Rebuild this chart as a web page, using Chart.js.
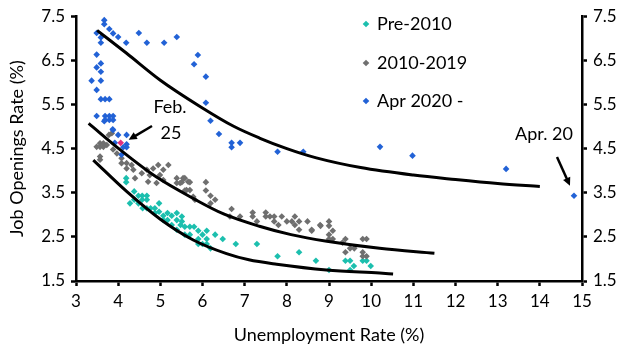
<!DOCTYPE html>
<html>
<head>
<meta charset="utf-8">
<script src="https://cdn.jsdelivr.net/npm/chart.js@4"></script>
<style>
  html, body { margin: 0; padding: 0; background: #fff; }
  #wrap { width: 629px; height: 354px; }
</style>
</head>
<body>
<div id="wrap"><canvas id="chart" width="629" height="354"></canvas></div>
<script>
// axis ticks
const xTicks = [3, 4, 5, 6, 7, 8, 9, 10, 11, 12, 13, 14, 15];
const yTicks = [1.5, 2.5, 3.5, 4.5, 5.5, 6.5, 7.5];

// series names
const seriesNames = ['Pre-2010', '2010-2019', 'Apr 2020 -'];

// Pre-2010 (unemployment, job openings)
const pre2010 = [
  [4.19, 3.83], [4.19, 3.74], [4.38, 3.53], [4.28, 3.26], [4.48, 3.26], [4.57, 3.43],
  [4.68, 3.43], [4.68, 3.34], [4.57, 3.34], [4.38, 3.34], [4.68, 3.15], [4.77, 3.15],
  [4.97, 3.26], [4.97, 3.07], [5.07, 2.98], [5.07, 2.88], [5.17, 3.04], [5.17, 2.88],
  [5.27, 2.77], [5.39, 3.04], [5.39, 2.88], [5.39, 2.66], [5.48, 2.77], [4.48, 3.43],
  [4.87, 3.15], [4.87, 3.04], [5.27, 2.98], [4.58, 3.15], [5.51, 2.96], [5.51, 2.85],
  [5.58, 2.73], [5.70, 2.73], [5.80, 2.73], [5.58, 2.55], [5.70, 2.55], [5.90, 2.64],
  [5.90, 2.45], [6.00, 2.55], [6.10, 2.64], [6.10, 2.45], [5.90, 2.34], [6.00, 2.34],
  [6.10, 2.34], [6.19, 2.24], [6.30, 2.55], [6.48, 2.45], [6.79, 2.34], [7.29, 2.34],
  [7.78, 2.06], [8.29, 2.15], [8.69, 1.96], [9.00, 1.75], [9.39, 1.96], [9.50, 1.96],
  [9.59, 1.84], [9.50, 1.75], [9.80, 1.96], [9.89, 1.96], [9.99, 1.84]
];

// 2010-2019
const y2010s = [
  [3.78, 4.81], [3.85, 4.85], [3.57, 4.62], [3.57, 4.54], [3.65, 4.62], [3.65, 4.54],
  [3.73, 4.58], [3.49, 4.54], [3.57, 4.32], [3.57, 4.25], [3.88, 4.48], [3.97, 4.39],
  [4.08, 4.28], [4.08, 4.17], [4.20, 4.17], [4.20, 4.05], [4.32, 4.13], [4.36, 4.02],
  [4.56, 3.94], [4.68, 4.02], [4.75, 3.90], [4.71, 3.75], [4.83, 4.05], [4.95, 4.13],
  [4.99, 3.90], [5.07, 4.02], [5.19, 4.13], [5.07, 3.79], [4.91, 3.72], [4.40, 3.83],
  [5.39, 3.83], [5.47, 3.72], [5.54, 3.83], [5.66, 3.75], [5.70, 3.56], [5.62, 3.56],
  [5.39, 3.72], [5.78, 3.41], [5.58, 3.83], [5.70, 3.74], [5.51, 3.74], [5.58, 3.55],
  [6.08, 3.74], [6.08, 3.55], [6.19, 3.43], [6.30, 3.34], [6.19, 3.26], [5.82, 3.34],
  [6.69, 3.13], [6.65, 2.96], [6.89, 2.96], [7.19, 3.05], [7.19, 2.96], [7.29, 2.85],
  [7.50, 3.05], [7.50, 2.96], [7.60, 2.96], [7.70, 2.96], [7.70, 2.85], [7.80, 2.77],
  [7.88, 2.96], [8.00, 2.85], [8.12, 2.85], [8.19, 2.96], [8.19, 2.77], [8.29, 2.85],
  [8.29, 2.66], [8.49, 2.85], [8.59, 2.66], [8.79, 2.77], [8.59, 2.64], [8.80, 2.75],
  [9.00, 2.85], [9.00, 2.75], [9.09, 2.64], [9.00, 2.55], [9.00, 2.45], [9.09, 2.45],
  [9.32, 2.37], [9.39, 2.45], [9.50, 2.24], [9.60, 2.24], [9.39, 2.15], [9.80, 2.45],
  [9.89, 2.45], [9.80, 2.15], [9.80, 2.06], [9.89, 2.06]
];

// Apr 2020 onwards
const since2020 = [
  [3.67, 7.41], [3.67, 7.32], [3.79, 7.21], [3.49, 7.12], [3.88, 7.11], [4.00, 7.03],
  [3.59, 7.02], [3.59, 6.90], [4.19, 6.90], [4.49, 7.12], [4.68, 6.90], [5.09, 6.90],
  [5.39, 7.03], [3.49, 6.63], [3.59, 6.43], [3.49, 6.34], [3.59, 6.24], [3.37, 6.04],
  [3.59, 6.04], [3.49, 5.83], [3.59, 5.62], [3.69, 5.62], [3.79, 5.62], [3.49, 5.24],
  [3.69, 5.24], [3.79, 5.24], [3.88, 5.24], [3.69, 5.15], [3.79, 5.15], [3.88, 5.15],
  [3.88, 4.92], [4.00, 4.81], [4.20, 4.81], [3.67, 5.12], [3.87, 4.94], [3.92, 4.63],
  [4.20, 4.60], [4.12, 4.53], [4.20, 4.53], [4.08, 4.36], [5.89, 6.62], [5.80, 6.41],
  [6.08, 6.13], [6.08, 5.54], [6.19, 5.13], [6.39, 4.83], [6.69, 4.63], [6.69, 4.53],
  [6.89, 4.63], [7.78, 4.43], [8.39, 4.43], [10.21, 4.54], [10.98, 4.34], [13.20, 4.04],
  [14.81, 3.43]
];

// latest observation (Feb 2025)
const latest = [[4.06, 4.63]];

// fitted curves
const curveTop = [
  [3.50, 7.18], [4.20, 6.66], [5.00, 6.05], [5.95, 5.45], [6.75, 5.00], [7.35, 4.74],
  [8.00, 4.50], [8.70, 4.29], [9.75, 4.07], [11.0, 3.90], [12.0, 3.80], [13.0, 3.71], [14.0, 3.64]
];
const curveMid = [
  [3.30, 5.07], [4.05, 4.47], [4.90, 3.86], [5.80, 3.36], [6.50, 3.02], [7.35, 2.74],
  [8.10, 2.55], [8.95, 2.40], [10.2, 2.24], [11.5, 2.13]
];
const curveLow = [
  [3.41, 4.24], [4.20, 3.53], [5.00, 2.90], [5.78, 2.43], [6.57, 2.12], [7.10, 1.98],
  [7.76, 1.88], [8.94, 1.75], [10.2, 1.68], [10.52, 1.66]
];

const colTeal = '#1cbfae';
const colGrey = '#6f6f6f';
const colBlue = '#2262d6';
const colPink = '#e0307f';
const FONT = 'Lato, "Open Sans", sans-serif';

const pts = arr => arr.map(([x, y]) => ({ x, y }));

function scatterSet(label, arr, color, order) {
  return {
    type: 'scatter', label, data: pts(arr),
    backgroundColor: color, borderColor: color,
    pointStyle: 'rectRot', pointRadius: 3.3, borderWidth: 0, order
  };
}
function curveSet(arr) {
  return {
    type: 'line', data: pts(arr), borderColor: '#000', borderWidth: 3,
    pointRadius: 0, fill: false, cubicInterpolationMode: 'monotone', order: 0
  };
}

function arrow(ctx, x1, y1, x2, y2) {
  const a = Math.atan2(y2 - y1, x2 - x1);
  const h = 9;
  ctx.beginPath();
  ctx.moveTo(x1, y1);
  ctx.lineTo(x2 - Math.cos(a) * h * 0.8, y2 - Math.sin(a) * h * 0.8);
  ctx.lineWidth = 2.5;
  ctx.strokeStyle = '#000';
  ctx.stroke();
  ctx.beginPath();
  ctx.moveTo(x2, y2);
  ctx.lineTo(x2 - h * Math.cos(a - 0.45), y2 - h * Math.sin(a - 0.45));
  ctx.lineTo(x2 - h * Math.cos(a + 0.45), y2 - h * Math.sin(a + 0.45));
  ctx.closePath();
  ctx.fillStyle = '#000';
  ctx.fill();
}

const overlay = {
  id: 'overlay',
  afterDraw(chart) {
    const ctx = chart.ctx;
    const xs = chart.scales.x, ys = chart.scales.y;
    ctx.save();
    // legend
    const legendCols = [colTeal, colGrey, colBlue];
    const legendY = [24, 63, 101];
    ctx.font = '18px ' + FONT;
    ctx.textBaseline = 'middle';
    ctx.textAlign = 'left';
    seriesNames.forEach((name, i) => {
      ctx.fillStyle = legendCols[i];
      ctx.beginPath();
      ctx.moveTo(366, legendY[i] - 3.3);
      ctx.lineTo(369.3, legendY[i]);
      ctx.lineTo(366, legendY[i] + 3.3);
      ctx.lineTo(362.7, legendY[i]);
      ctx.closePath();
      ctx.fill();
      ctx.fillStyle = '#000';
      ctx.fillText(name, 377, legendY[i]);
    });
    // annotations
    ctx.textAlign = 'center';
    ctx.fillText('Feb.', 170, 107);
    ctx.fillText('25', 171, 133);
    const fx = xs.getPixelForValue(latest[0][0]), fy = ys.getPixelForValue(latest[0][1]);
    arrow(ctx, 152, 126, fx + 8, fy - 3);
    const last = since2020[since2020.length - 1];
    const ax = xs.getPixelForValue(last[0]), ay = ys.getPixelForValue(last[1]);
    ctx.fillStyle = '#000';
    ctx.fillText('Apr. 20', 544, 134);
    arrow(ctx, 557, 157, ax - 4, ay - 10);
    ctx.restore();
  }
};

const tickFont = { family: FONT, size: 17 };
const titleFont = { family: FONT, size: 18 };
const axisCommon = {
  border: { color: '#000', width: 2.5 },
  grid: { display: true, drawOnChartArea: false, drawTicks: true, tickLength: 5, tickColor: '#000', tickWidth: 2.5 },
  ticks: { color: '#000', font: tickFont }
};

new Chart(document.getElementById('chart'), {
  type: 'scatter',
  data: {
    datasets: [
      curveSet(curveTop), curveSet(curveMid), curveSet(curveLow),
      scatterSet('latest', latest, colPink, -1),
      scatterSet(seriesNames[2], since2020, colBlue, 1),
      scatterSet(seriesNames[1], y2010s, colGrey, 2),
      scatterSet(seriesNames[0], pre2010, colTeal, 3)
    ]
  },
  options: {
    responsive: false,
    animation: false,
    layout: { padding: { top: 16, right: 0, left: 0, bottom: 0 } },
    plugins: { legend: { display: false }, tooltip: { enabled: false } },
    scales: {
      x: {
        ...axisCommon,
        type: 'linear', min: 3, max: 15,
        afterBuildTicks: s => { s.ticks = xTicks.map(v => ({ value: v })); },
        ticks: { ...axisCommon.ticks, padding: 5, maxRotation: 0 },
        title: { display: true, text: 'Unemployment Rate (%)', color: '#000', font: titleFont, padding: { top: 6, bottom: 8 } },
        afterFit: s => { s.height = 73; }
      },
      y: {
        ...axisCommon,
        type: 'linear', position: 'left', min: 1.5, max: 7.5,
        afterBuildTicks: s => { s.ticks = yTicks.map(v => ({ value: v })); },
        ticks: { ...axisCommon.ticks, padding: 6, callback: v => v.toFixed(1) },
        title: { display: true, text: 'Job Openings Rate (%)', color: '#000', font: titleFont, padding: { top: 6, bottom: 4 } },
        afterFit: s => { s.width = 76; }
      },
      y2: {
        ...axisCommon,
        type: 'linear', position: 'right', min: 1.5, max: 7.5,
        afterBuildTicks: s => { s.ticks = yTicks.map(v => ({ value: v })); },
        ticks: { ...axisCommon.ticks, padding: 6, callback: v => v.toFixed(1) },
        afterFit: s => { s.width = 47; }
      }
    }
  },
  plugins: [overlay]
});
</script>
</body>
</html>
